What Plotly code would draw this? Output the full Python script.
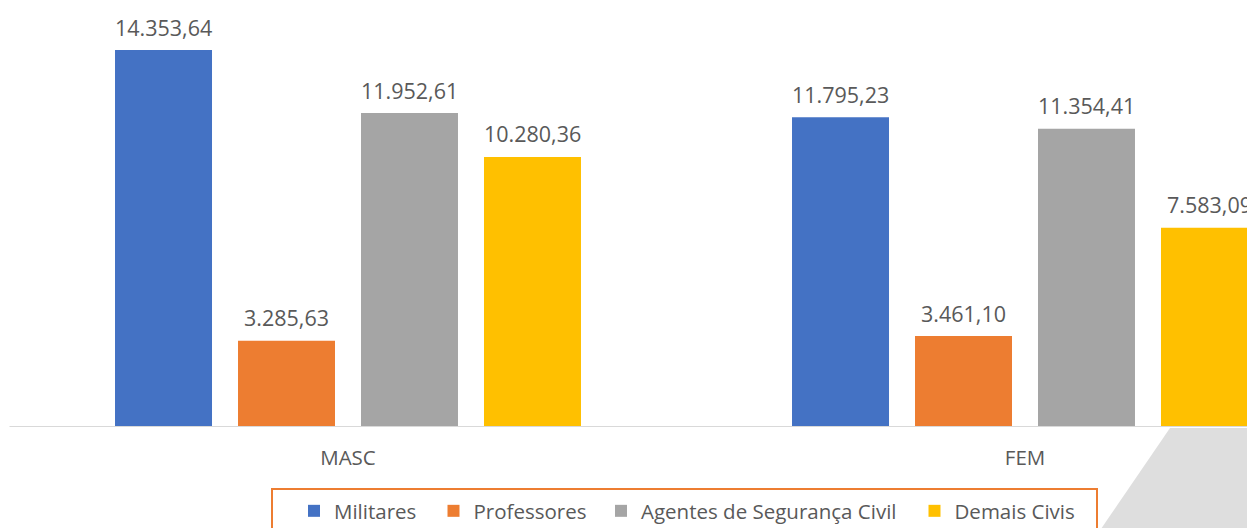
import plotly.graph_objects as go

categories = ["MASC", "FEM"]
series_names = ["Militares", "Professores", "Agentes de Segurança Civil", "Demais Civis"]
militares = [14353.64, 11795.23]
professores = [3285.63, 3461.10]
agentes = [11952.61, 11354.41]
demais = [10280.36, 7583.09]
series_values = [militares, professores, agentes, demais]

# styles
colors = ["#4472C4", "#ED7D31", "#A5A5A5", "#FFC000"]
legend_widths = [94.5, 122.5, 268.5, 125]

# page has an 8px body margin on the left/top; figure runs to the right window edge
OFF = 8
W, H = 1255, 528 - OFF
AXIS_PAGE_Y = 427
PH = AXIS_PAGE_Y - OFF          # plot area height in figure px
PX_PER_CAT = 677.0
CAT0_PAGE_X = 348
BARGAP = 0.2733
BARGROUPGAP = 0.2114
PX_PER_UNIT = 377 / 14353.64
YMAX = PH / PX_PER_UNIT
X0 = -(CAT0_PAGE_X - OFF) / PX_PER_CAT
X1 = X0 + W / PX_PER_CAT
FONT = "Open Sans"
TXT = "#595959"


def px(page_x):
    return (page_x - OFF) / W


def py(page_y):
    return (AXIS_PAGE_Y - page_y) / PH


def br(v):
    s = f"{v:,.2f}"
    return s.replace(",", "X").replace(".", ",").replace("X", ".")


xs = list(range(len(categories)))
fig = go.Figure()
for name, vals, col, lw in zip(series_names, series_values, colors, legend_widths):
    fig.add_trace(go.Bar(x=xs, y=vals, name=name, marker=dict(color=col, line=dict(width=0)),
                         legendwidth=lw, hoverinfo="skip"))

n = len(series_names)
slot = (1 - BARGAP) / n
annotations = []
for i, vals in enumerate(series_values):
    off = (i - (n - 1) / 2) * slot
    for xi, v in zip(xs, vals):
        annotations.append(dict(x=xi + off, y=v, text=br(v), showarrow=False, yshift=23,
                                font=dict(family=FONT, size=21.5, color=TXT)))

shapes = [
    # legend frame
    dict(type="rect", xref="paper", yref="paper", x0=px(272), x1=px(1097),
         y0=py(545), y1=py(489),
         line=dict(color="#ED7D31", width=2), fillcolor="rgba(0,0,0,0)", layer="above"),
    # decorative grey wedge
    dict(type="path", xref="paper", yref="paper",
         path=f"M {px(1170)},{py(428)} L 1.02,{py(428)} "
              f"L 1.02,{py(545)} L {px(1090)},{py(545)} Z",
         fillcolor="#DEDEDE", line=dict(width=0), layer="above"),
    # axis line
    dict(type="line", xref="x", yref="y", x0=-0.5, x1=X1 + 0.1, y0=0, y1=0,
         line=dict(color="#D9D9D9", width=2), layer="above"),
]

fig.update_layout(
    width=W, height=H,
    margin=dict(l=0, r=0, t=0, b=H - PH, autoexpand=False),
    paper_bgcolor="white", plot_bgcolor="white",
    barmode="group", bargap=BARGAP, bargroupgap=BARGROUPGAP,
    showlegend=True,
    legend=dict(orientation="h", x=px(294), xanchor="left", y=py(491), yanchor="top",
                font=dict(family=FONT, size=20.5, color=TXT), bgcolor="rgba(0,0,0,0)",
                borderwidth=0, itemclick=False, itemdoubleclick=False),
    xaxis=dict(range=[X0, X1], tickvals=xs, ticktext=categories, showgrid=False, zeroline=False,
               showline=False, ticks="", ticklabelstandoff=16, automargin=False,
               tickfont=dict(family=FONT, size=20.5, color=TXT), fixedrange=True),
    yaxis=dict(range=[0, YMAX], visible=False, showgrid=False, zeroline=False, fixedrange=True),
    annotations=annotations,
    shapes=shapes,
)

fig.write_html("out.html")
